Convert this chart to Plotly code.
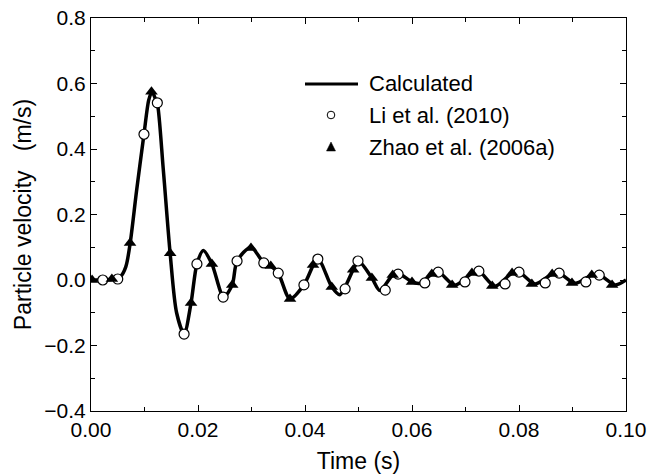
import plotly.graph_objects as go

# Calculated waveform (time s, particle velocity m/s)
calc_t = [0.000, 0.002, 0.004, 0.0055, 0.0065, 0.0073, 0.0085, 0.0099, 0.0108, 0.0114,
          0.0120, 0.0124, 0.0135, 0.0148, 0.0160, 0.0174, 0.0187, 0.0198, 0.0210, 0.0226,
          0.0248, 0.0264, 0.0273, 0.0299, 0.0323, 0.0336, 0.0350, 0.0372, 0.0398, 0.0424,
          0.0450, 0.0465, 0.0490, 0.0500, 0.0525, 0.0540, 0.0564, 0.0575, 0.0600, 0.0615,
          0.0637, 0.0650, 0.0680, 0.0712, 0.0725, 0.0755, 0.0787, 0.0800, 0.0830, 0.0862,
          0.0875, 0.0905, 0.0936, 0.0950, 0.0980, 0.1000]
calc_v = [0.000, 0.000, 0.002, 0.010, 0.040, 0.110, 0.270, 0.445, 0.550, 0.575,
          0.555, 0.540, 0.340, 0.080, -0.100, -0.165, -0.070, 0.049, 0.090, 0.049,
          -0.052, -0.015, 0.058, 0.100, 0.052, 0.043, 0.021, -0.058, -0.015, 0.064,
          -0.021, -0.045, 0.031, 0.058, 0.006, -0.032, 0.015, 0.020, -0.006, -0.010,
          0.018, 0.024, -0.016, 0.021, 0.027, -0.019, 0.021, 0.024, -0.012, 0.018,
          0.021, -0.010, 0.015, 0.016, -0.015, 0.000]

# Li et al. (2010)
li_t = [0.0022, 0.0050, 0.0099, 0.0124, 0.0174, 0.0198, 0.0247, 0.0273, 0.0323, 0.0350,
        0.0398, 0.0424, 0.0475, 0.0499, 0.0550, 0.0574, 0.0624, 0.0649, 0.0699, 0.0725,
        0.0774, 0.0800, 0.0849, 0.0875, 0.0925, 0.0950]
li_v = [0.000, 0.003, 0.445, 0.541, -0.165, 0.049, -0.052, 0.058, 0.052, 0.021,
        -0.015, 0.064, -0.027, 0.058, -0.031, 0.018, -0.009, 0.024, -0.006, 0.027,
        -0.012, 0.024, -0.009, 0.021, -0.006, 0.015]

# Zhao et al. (2006a)
zhao_t = [0.0002, 0.0039, 0.0073, 0.0113, 0.0148, 0.0187, 0.0226, 0.0264, 0.0299, 0.0336,
          0.0372, 0.0415, 0.0450, 0.0490, 0.0525, 0.0564, 0.0600, 0.0637, 0.0675, 0.0712,
          0.0750, 0.0787, 0.0824, 0.0862, 0.0899, 0.0936, 0.0974]
zhao_v = [0.000, 0.003, 0.113, 0.575, 0.082, -0.070, 0.049, -0.015, 0.098, 0.043,
          -0.058, 0.046, -0.021, 0.031, 0.006, 0.015, -0.006, 0.018, -0.015, 0.021,
          -0.018, 0.021, -0.012, 0.018, -0.009, 0.015, -0.015]

series_names = ["Calculated", "Li et al. (2010)", "Zhao et al. (2006a)"]

FONT = "Liberation Sans, Arial, sans-serif"

fig = go.Figure()
fig.add_trace(go.Scatter(x=calc_t, y=calc_v, mode="lines", name=series_names[0],
                         line=dict(color="black", width=3.5, shape="spline", smoothing=0.8),
                         showlegend=False))
fig.add_trace(go.Scatter(x=li_t, y=li_v, mode="markers", name=series_names[1],
                         marker=dict(symbol="circle", size=10, color="white",
                                     line=dict(color="black", width=1.2)),
                         showlegend=False))
fig.add_trace(go.Scatter(x=zhao_t, y=zhao_v, mode="markers", name=series_names[2],
                         marker=dict(symbol="triangle-up", size=11, color="black",
                                     line=dict(color="black", width=0)),
                         showlegend=False))

axis_common = dict(showline=True, linecolor="black", linewidth=1, mirror="ticks",
                   ticks="inside", ticklen=6, tickwidth=1, tickcolor="black",
                   showgrid=False, zeroline=False, automargin=False,
                   ticklabeloverflow="allow",
                   tickfont=dict(family=FONT, size=21, color="black"))

fig.update_xaxes(range=[0, 0.1], tick0=0, dtick=0.02, tickformat=".2f",
                 minor=dict(ticks="inside", dtick=0.01, ticklen=4, tickcolor="black"),
                 title=dict(text="Time (s)", font=dict(family=FONT, size=23, color="black"),
                            standoff=12),
                 **axis_common)
fig.update_yaxes(range=[-0.4, 0.8], tick0=-0.4, dtick=0.2, tickformat=".1f",
                 minor=dict(ticks="inside", dtick=0.1, ticklen=4, tickcolor="black"),
                 title=dict(text="Particle velocity   (m/s)",
                            font=dict(family=FONT, size=23, color="black"), standoff=6),
                 **axis_common)

# Plot-area geometry in window pixels
W, H = 535.0, 393.0   # plot-area size in px
L, B = 91.0, 411.0    # plot-area left / bottom in px


def px(xp):
    return (xp - L) / W


def py(yp):
    return (B - yp) / H


rows_y = [84, 115, 147]
text_x = 367
sym_x = 331

fig.add_shape(type="line", xref="paper", yref="paper",
              x0=px(305), x1=px(358), y0=py(rows_y[0]), y1=py(rows_y[0]),
              line=dict(color="black", width=3))
r = 3.8
fig.add_shape(type="circle", xref="paper", yref="paper",
              x0=px(sym_x - r), x1=px(sym_x + r), y0=py(rows_y[1] + r), y1=py(rows_y[1] - r),
              line=dict(color="black", width=1), fillcolor="white")
ty = rows_y[2]
fig.add_shape(type="path", xref="paper", yref="paper",
              path=f"M {px(sym_x - 4.5)},{py(ty + 4)} L {px(sym_x + 4.5)},{py(ty + 4)} "
                   f"L {px(sym_x)},{py(ty - 5)} Z",
              line=dict(color="black", width=0.5), fillcolor="black")
for name, yy in zip(series_names, rows_y):
    fig.add_annotation(text=name, xref="paper", yref="paper", x=px(text_x), y=py(yy),
                       xanchor="left", yanchor="middle", showarrow=False,
                       font=dict(family=FONT, size=22, color="black"))

FIG_W, FIG_H = 649, 474
fig.update_layout(
    width=FIG_W, height=FIG_H,
    margin=dict(l=L, r=FIG_W - (L + W), t=B - H, b=FIG_H - B, autoexpand=False),
    paper_bgcolor="white", plot_bgcolor="white",
    showlegend=False,
)

fig.write_html("out.html", config={"displayModeBar": False},
               post_script="document.body.style.margin='0';document.body.style.overflow='hidden';")
